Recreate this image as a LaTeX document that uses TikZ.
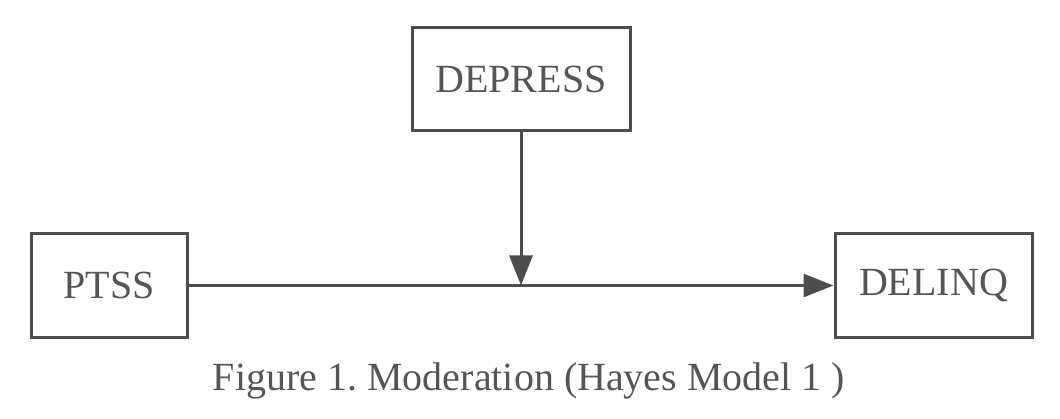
\documentclass[tikz,border=0pt]{standalone}
\usepackage{fontspec}
\setmainfont{Liberation Serif}
\usetikzlibrary{arrows.meta}
\definecolor{ink}{HTML}{4D4D4D}
\definecolor{txt}{HTML}{555555}
\frenchspacing
\begin{document}
\begin{tikzpicture}[x=1pt,y=1pt,
  varbox/.style={draw=ink,line width=3pt,fill=white,inner sep=0pt,text=txt,
    font=\fontsize{40}{46}\selectfont,minimum height=103pt},
  conn/.style={draw=ink,line width=3pt,-{Triangle[length=30pt,width=23pt]}}]
\useasboundingbox (0,0) rectangle (1060,418);
\node[varbox,minimum width=218pt] (dep) at (521,338.5) {DEPRESS};
\node[varbox,minimum width=156pt] (ptss) at (109,132.5) {PTSS};
\node[varbox,minimum width=197pt] (del) at (933.5,132.5) {DELINQ};
\coordinate (mid) at (dep.south |- ptss.east);
\draw[conn] (ptss.east) -- (del.west);
\draw[conn] (dep.south) -- (mid);
\node[text=txt,font=\fontsize{40}{46}\selectfont,anchor=base] (cap) at (529,28) {Figure 1. Moderation (Hayes Model 1 )};
\end{tikzpicture}
\end{document}
